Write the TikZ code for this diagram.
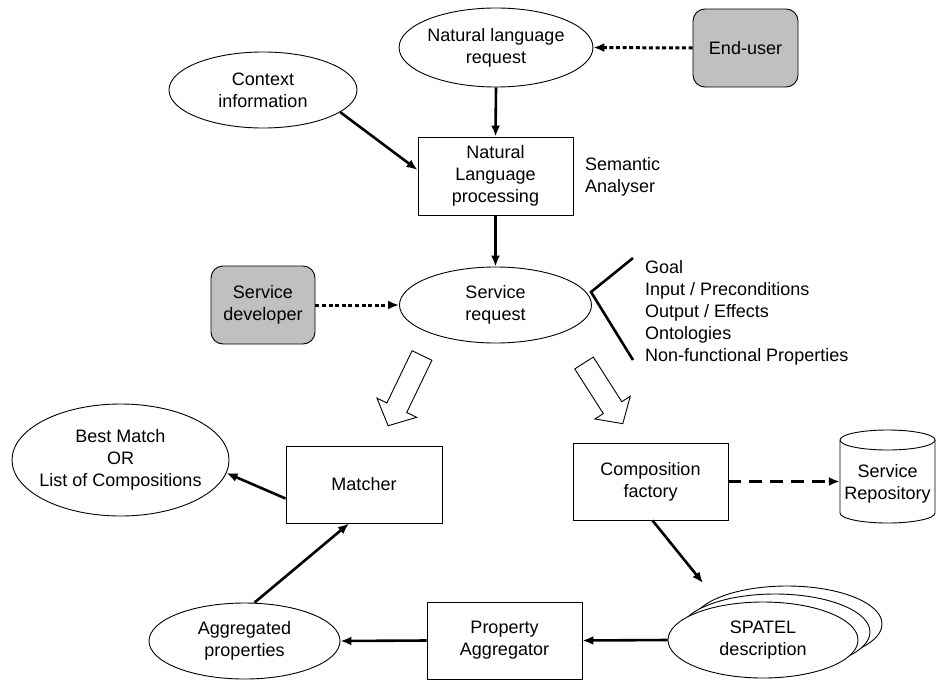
\documentclass[tikz,border=0pt]{standalone}
\usepackage{fontspec}
\setmainfont{Liberation Sans}
\usetikzlibrary{shapes.geometric,arrows.meta}
\definecolor{actorgray}{HTML}{C0C0C0}
\begin{document}
\begin{tikzpicture}[x=1pt,y=-1pt,
  every node/.style={font=\fontsize{18}{22}\selectfont},
  box/.style={draw, line width=0.9pt, rectangle, align=center, inner sep=0pt, fill=white},
  ell/.style={draw, line width=0.9pt, ellipse, align=center, inner sep=0pt, fill=white},
  actor/.style={draw, line width=0.9pt, rounded corners=12pt, fill=actorgray, align=center, inner sep=0pt},
  conn/.style={line width=2.6pt, -{Latex[length=11pt,width=9pt]}},
  dotconn/.style={line width=3pt, dash pattern=on 4pt off 2.6pt, -{Latex[length=11pt,width=9pt]}},
  dashconn/.style={line width=2.6pt, dash pattern=on 13pt off 8pt, -{Latex[length=11pt,width=9pt]}},
  hollow/.style={draw, line width=0.9pt, fill=white, line join=miter},
  bracketline/.style={line width=2.6pt, line join=miter}
]
\useasboundingbox (0,0) rectangle (936,680);

% nodes
\node[ell, minimum width=191pt, minimum height=79pt] (nlr) at (496,47.5) {Natural language\\request};
\node[actor, minimum width=105pt, minimum height=78pt] (eu) at (745.5,48) {End-user};
\node[ell, minimum width=188pt, minimum height=76pt] (ctx) at (263,90) {Context\\information};
\node[box, minimum width=155pt, minimum height=78pt] (nlp) at (495.5,176) {Natural\\Language\\processing};
\node[anchor=west, align=left, inner sep=0pt] (sa) at (585,177) {Semantic\\Analyser};
\node[ell, minimum width=192pt, minimum height=76pt] (sr) at (495.5,305) {Service\\request};
\node[actor, minimum width=104pt, minimum height=78pt] (sd) at (263,305) {Service\\developer};
\node[anchor=west, align=left, inner sep=0pt] (props) at (645,313) {Goal\\Input / Preconditions\\Output / Effects\\Ontologies\\Non-functional Properties};

\node[ell, inner sep=-8pt, minimum width=217pt, minimum height=112pt] (best) at (120.5,460) {Best Match\\OR\\List of Compositions};
\node[box, minimum width=156pt, minimum height=77pt] (matcher) at (364,484.5) {Matcher};
\node[box, minimum width=155pt, minimum height=77pt] (cf) at (650.5,481.5) {Composition\\factory};

% cylinder
\draw[line width=0.9pt, fill=white] (840,440) -- (840,513) arc[start angle=180, end angle=360, x radius=47.5pt, y radius=10pt] -- (935,440);
\draw[line width=0.9pt, fill=white] (887.5,440) ellipse [x radius=47.5pt, y radius=10pt];
\node[minimum width=95pt, minimum height=93pt, align=center, inner sep=0pt] (repo) at (887.5,484) {Service\\Repository};

\node[ell, minimum width=191pt, minimum height=76pt] (agg) at (244.5,641) {Aggregated\\properties};
\node[box, minimum width=155pt, minimum height=77pt] (pa) at (504.5,640.5) {Property\\Aggregator};

% stacked SPATEL ellipses
\node[ell, minimum width=190pt, minimum height=76pt] (sp3) at (787,624) {};
\node[ell, minimum width=190pt, minimum height=76pt] (sp2) at (775,632) {};
\node[ell, minimum width=190pt, minimum height=76pt] (sp) at (763,640) {SPATEL\\description};

% bracket
\coordinate (bt) at (633,258);
\coordinate (bv) at (591,292);
\coordinate (bb) at (633,360);
\draw[bracketline] (bt) -- (bv) -- (bb);

% hollow arrows
\begin{scope}[shift={(422,355.5)}, rotate=-115.75]
  \draw[hollow] (0,11) -- (58,11) -- (58,22) -- (78,0) -- (58,-22) -- (58,-11) -- (0,-11) -- cycle;
\end{scope}
\begin{scope}[shift={(584,363)}, rotate=-57.4]
  \draw[hollow] (0,11) -- (53,11) -- (53,21) -- (72,0) -- (53,-21) -- (53,-11) -- (0,-11) -- cycle;
\end{scope}

% connectors
\draw[dotconn] (eu.west) -- (nlr.east);
\draw[conn] (nlr.south) -- (nlp.north);
\draw[conn] (ctx.-16) -- ([yshift=6pt]nlp.west);
\draw[conn] (nlp.south) -- (sr.north);
\draw[dotconn] (sd.east) -- (sr.west);
\draw[conn] ([yshift=-14pt]matcher.west) -- (best.-7);
\draw[conn] ([xshift=10pt]agg.north) -- ([xshift=-15pt]matcher.south);
\draw[dashconn] (cf.east) -- (cf.east -| repo.west);
\coordinate (spin) at (703,583);
\draw[conn] ([xshift=2pt]cf.south) -- (spin);
\draw[conn] (sp.west) -- (pa.east);
\draw[conn] (pa.west) -- (agg.east);
\end{tikzpicture}
\end{document}
